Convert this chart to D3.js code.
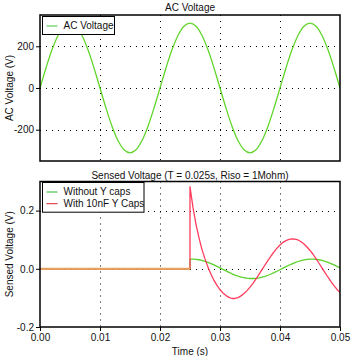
<!DOCTYPE html>
<html><head><meta charset="utf-8">
<script src="https://cdn.jsdelivr.net/npm/d3@7"></script>
<style>
html,body{margin:0;padding:0;background:#fff;}
svg{display:block;font-family:"Liberation Sans",Arial,sans-serif;font-size:10px;}
</style></head>
<body><svg id="c" width="356" height="356"></svg>
<script>
// ---- data ----
const acTime = [0,0.001,0.002,0.003,0.004,0.005,0.006,0.007,0.008,0.009,0.010,0.011,0.012,0.013,0.014,0.015,0.016,0.017,0.018,0.019,0.020,0.021,0.022,0.023,0.024,0.025,0.026,0.027,0.028,0.029,0.030,0.031,0.032,0.033,0.034,0.035,0.036,0.037,0.038,0.039,0.040,0.041,0.042,0.043,0.044,0.045,0.046,0.047,0.048,0.049,0.050];
const acVoltage = [0,96,183,252,296,311,296,252,183,96,0,-96,-183,-252,-296,-311,-296,-252,-183,-96,0,96,183,252,296,311,296,252,183,96,0,-96,-183,-252,-296,-311,-296,-252,-183,-96,0,96,183,252,296,311,296,252,183,96,0];

const sensedTime = [0,0.025,0.025,0.0255,0.026,0.0265,0.027,0.0275,0.028,0.0285,0.029,0.0295,0.030,0.0305,0.031,0.0315,0.032,0.0325,0.033,0.0335,0.034,0.0345,0.035,0.0355,0.036,0.0365,0.037,0.0375,0.038,0.0385,0.039,0.0395,0.040,0.0405,0.041,0.0415,0.042,0.0425,0.043,0.0435,0.044,0.0445,0.045,0.0455,0.046,0.0465,0.047,0.0475,0.048,0.0485,0.049,0.0495,0.050];
const withoutYCaps = [0,0,0.0334,0.0334,0.0327,0.0311,0.0288,0.0258,0.0222,0.0179,0.0133,0.0083,0.0032,-0.0021,-0.0073,-0.0123,-0.0171,-0.0214,-0.0251,-0.0283,-0.0307,-0.0324,-0.0334,-0.0334,-0.0327,-0.0311,-0.0288,-0.0258,-0.0222,-0.0179,-0.0133,-0.0083,-0.0032,0.0021,0.0073,0.0123,0.0171,0.0214,0.0251,0.0283,0.0307,0.0324,0.0334,0.0334,0.0327,0.0311,0.0288,0.0258,0.0222,0.0179,0.0133,0.0083,0.0032];
const with10nF = [0,0,0.282,0.210,0.153,0.106,0.066,0.034,0.005,-0.019,-0.040,-0.057,-0.072,-0.083,-0.092,-0.098,-0.102,-0.102,-0.099,-0.093,-0.085,-0.075,-0.063,-0.050,-0.035,-0.019,-0.003,0.013,0.029,0.044,0.058,0.071,0.082,0.091,0.097,0.101,0.103,0.102,0.099,0.093,0.085,0.075,0.063,0.050,0.035,0.019,0.003,-0.013,-0.029,-0.044,-0.058,-0.071,-0.081];

const xTicks = [0,0.01,0.02,0.03,0.04,0.05];
const xTickLabels = ["0.00","0.01","0.02","0.03","0.04","0.05"];
const acTicks = [-200,0,200];
const acTickLabels = ["-200","0","200"];
const sensedTicks = [-0.2,0,0.2];
const sensedTickLabels = ["-0.2","0.0","0.2"];
const legendTop = ["AC Voltage"];
const legendBottom = ["Without Y caps","With 10nF Y Caps"];

// ---- layout ----
const L = 40, R = 340;
const top1 = 15, bot1 = 161;
const top2 = 181.5, bot2 = 327;
const FS = "10px";
const FF = "\"Liberation Sans\",Arial,sans-serif";
const svg = d3.select("#c");

const x = d3.scaleLinear().domain([0,0.05]).range([L,R]);
const y1 = d3.scaleLinear().domain([-350,350]).range([bot1,top1]);
const y2 = d3.scaleLinear().domain([-0.2,0.3]).range([bot2,top2]);

const cGreenTop = "#62d52c", cGreen = "#5ad12a", cRed = "#ff3c5c", cOverlap = "#e8a25a";

function grid(yScale, yVals, t, b) {
  const g = svg.append("g");
  g.selectAll(".vx").data(xTicks.filter(d => d > 0 && d < 0.05)).join("line")
    .attr("x1", d => Math.round(x(d)) + 0.5).attr("x2", d => Math.round(x(d)) + 0.5)
    .attr("y1", t).attr("y2", b)
    .attr("stroke", "#000").attr("stroke-width", 1).attr("stroke-dasharray", "1,5");
  g.selectAll(".hy").data(yVals).join("line")
    .attr("x1", L).attr("x2", R)
    .attr("y1", d => Math.round(yScale(d)) + 0.5).attr("y2", d => Math.round(yScale(d)) + 0.5)
    .attr("stroke", "#000").attr("stroke-width", 1).attr("stroke-dasharray", "1,5");
}
grid(y1, acTicks, top1, bot1);
grid(y2, sensedTicks.filter(d => d > -0.2), top2, bot2);

svg.append("clipPath").attr("id","cp1").append("rect").attr("x",L).attr("y",top1).attr("width",R-L).attr("height",bot1-top1);
svg.append("clipPath").attr("id","cp2").append("rect").attr("x",L).attr("y",top2).attr("width",R-L).attr("height",bot2-top2);

// AC line
const acData = acTime.map((t,i) => [t, acVoltage[i]]);
svg.append("path").attr("clip-path","url(#cp1)")
  .attr("d", d3.line().x(d => x(d[0])).y(d => y1(d[1])).curve(d3.curveCatmullRom.alpha(0.5))(acData))
  .attr("fill","none").attr("stroke",cGreenTop).attr("stroke-width",1.3);

// Sensed lines
const gData = sensedTime.map((t,i) => [t, withoutYCaps[i]]);
const rData = sensedTime.map((t,i) => [t, with10nF[i]]);
const line2 = d3.line().x(d => x(d[0])).y(d => y2(d[1]));
svg.append("path").attr("clip-path","url(#cp2)").attr("d", line2(gData))
  .attr("fill","none").attr("stroke",cGreen).attr("stroke-width",1.3).attr("stroke-linejoin","round");
svg.append("path").attr("clip-path","url(#cp2)").attr("d", line2(rData))
  .attr("fill","none").attr("stroke",cRed).attr("stroke-width",1.3).attr("stroke-linejoin","round");
// overlap where both series coincide
const overlap = rData.filter((d,i) => d[1] === gData[i][1]);
svg.append("path").attr("clip-path","url(#cp2)")
  .attr("d", line2(overlap))
  .attr("fill","none").attr("stroke",cOverlap).attr("stroke-width",2);

// frames
[[top1,bot1],[top2,bot2]].forEach(([t,b]) => {
  svg.append("rect").attr("x",L).attr("y",t).attr("width",R-L).attr("height",b-t)
    .attr("fill","none").attr("stroke","#000").attr("stroke-width",1.5);
});

// axes
function styleAxis(g) {
  g.select(".domain").remove();
  g.selectAll(".tick line").attr("stroke","#000").attr("stroke-width",1);
  g.selectAll(".tick text").attr("fill","#111").style("font-family",FF).style("font-size",FS);
}
svg.append("g").attr("transform",`translate(${L},0)`)
  .call(d3.axisLeft(y1).tickValues(acTicks).tickSize(4).tickPadding(2).tickFormat((d,i) => acTickLabels[i]))
  .call(styleAxis);
svg.append("g").attr("transform",`translate(${L},0)`)
  .call(d3.axisLeft(y2).tickValues(sensedTicks).tickSize(4).tickPadding(2).tickFormat((d,i) => sensedTickLabels[i]))
  .call(styleAxis);
svg.append("g").attr("transform",`translate(0,${bot2})`)
  .call(d3.axisBottom(x).tickValues(xTicks).tickSize(4).tickPadding(3).tickFormat((d,i) => xTickLabels[i]))
  .call(styleAxis);

// titles
const txt = (s, xx, yy, opts={}) => svg.append("text").text(s).attr("x",xx).attr("y",yy)
  .attr("text-anchor", opts.anchor || "middle").attr("fill","#111").style("font-size", FS)
  .attr("transform", opts.rot ? `rotate(-90,${xx},${yy})` : null);
txt("AC Voltage", (L+R)/2, 11);
txt("Sensed Voltage (T = 0.025s, Riso = 1Mohm)", (L+R)/2, 178.5);
txt("Time (s)", (L+R)/2, 354.5);
txt("AC Voltage (V)", 12.5, (top1+bot1)/2, {rot:true});
txt("Sensed Voltage (V)", 12.5, (top2+bot2)/2, {rot:true});

// legends
function legend(x0, y0, w, items, colors) {
  const step = 11.7;
  const h = 6.3 + items.length * step;
  const g = svg.append("g");
  g.append("rect").attr("x",x0).attr("y",y0).attr("width",w).attr("height",h)
    .attr("fill","#fff").attr("stroke","#000").attr("stroke-width",1);
  items.forEach((s,i) => {
    const yy = y0 + 9 + i * step;
    g.append("line").attr("x1",x0+4).attr("x2",x0+15).attr("y1",yy+0.5).attr("y2",yy+0.5)
      .attr("stroke",colors[i]).attr("stroke-width",1);
    g.append("text").text(s).attr("x",x0+21).attr("y",yy+3.8).attr("fill","#111").style("font-size",FS);
  });
}
legend(42.5, 16.5, 72, legendTop, ["#3cc63c"]);
legend(42.5, 182.5, 101.5, legendBottom, ["#2fb52f","#e0202e"]);
</script></body></html>
